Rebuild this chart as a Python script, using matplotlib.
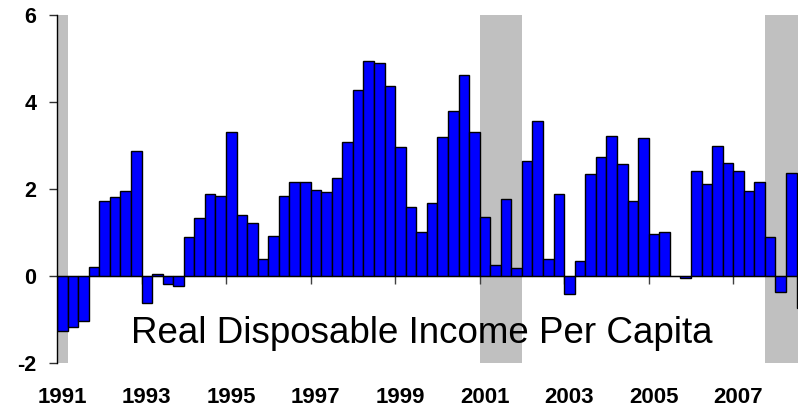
import matplotlib.pyplot as plt
import numpy as np

# quarterly growth, 1991Q1 .. 2008Q3
quarters = [f"{y}Q{q}" for y in range(1991, 2009) for q in range(1, 5)][:71]
values = [-1.25, -1.16, -1.02, 0.22, 1.72, 1.81, 1.95, 2.87,
          -0.62, 0.05, -0.18, -0.23, 0.89, 1.33, 1.89, 1.85,
          3.31, 1.41, 1.23, 0.40, 0.93, 1.85, 2.16, 2.16,
          1.98, 1.93, 2.25, 3.09, 4.28, 4.94, 4.90, 4.37,
          2.96, 1.59, 1.01, 1.68, 3.19, 3.80, 4.63, 3.31,
          1.37, 0.26, 1.77, 0.18, 2.65, 3.57, 0.40, 1.90,
          -0.41, 0.35, 2.34, 2.74, 3.23, 2.57, 1.72, 3.17,
          0.97, 1.01, 0.0, -0.05, 2.42, 2.11, 3.00, 2.61,
          2.42, 1.95, 2.17, 0.89, -0.36, 2.38, -0.74]
year_labels = ["1991", "1993", "1995", "1997", "1999", "2001", "2003", "2005", "2007"]
# recessions as (first quarter, last quarter)
recessions = [("1991Q1", "1991Q1"), ("2001Q1", "2001Q4"), ("2007Q4", "2008Q3")]

x = np.arange(len(values))

fig = plt.figure(figsize=(7.98, 4.13), dpi=100)
ax = fig.add_axes([0.0714, 0.1203, 0.9286, 0.8434])

for start, end in recessions:
    ax.axvspan(quarters.index(start) - 0.5, quarters.index(end) + 0.5,
               color="#c0c0c0", lw=0, zorder=0)

ax.bar(x, values, width=1.0, color="#0000ff", edgecolor="black", linewidth=1.0, zorder=2)

ax.set_xlim(-0.5, 69.63)
ax.set_ylim(-2, 6)

ax.spines["top"].set_visible(False)
ax.spines["right"].set_visible(False)
ax.spines["bottom"].set_position(("data", 0))
ax.spines["bottom"].set_zorder(3)
ax.spines["left"].set_linewidth(1.0)

ax.set_yticks([-2, 0, 2, 4, 6])
ax.set_yticklabels(["-2", "0", "2", "4", "6"], fontsize=15.5, fontweight="bold",
                   family="Liberation Sans")
ax.tick_params(axis="y", direction="out", length=6, width=1, pad=9, color="#303030")

ax.set_xticks(np.arange(7.5, len(values), 8))
ax.set_xticklabels([])
ax.tick_params(axis="x", direction="out", length=6, width=1, color="#404040")

for i, lab in enumerate(year_labels):
    ax.text(i * 8, -0.098, lab, transform=ax.get_xaxis_transform(),
            ha="center", va="center", fontsize=16, fontweight="bold",
            family="Liberation Sans")

ax.text(34, -1.32, "Real Disposable Income Per Capita", ha="center", va="center",
        fontsize=26.5, family="Liberation Sans", zorder=4)

plt.savefig("out.png", dpi=100)
plt.close()
